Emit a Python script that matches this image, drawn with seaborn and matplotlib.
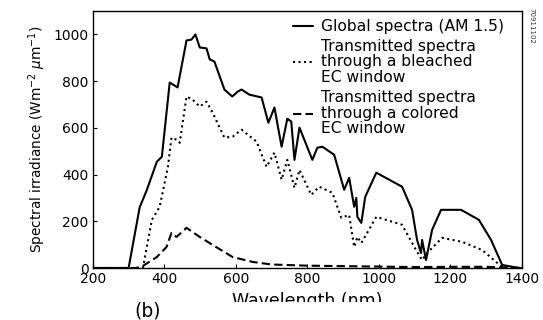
import numpy as np
import pandas as pd
import matplotlib
matplotlib.use("Agg")
import matplotlib.pyplot as plt
from matplotlib.patches import Rectangle
import seaborn as sns

# values
global_nm = [200, 300, 331, 350, 379, 393, 415, 437, 462, 476, 487, 499, 518, 527, 540,
             568, 590, 605, 616, 638, 672, 691, 708, 728, 744, 755, 764, 778, 814, 828,
             842, 875, 903, 917, 931, 937, 940, 951, 962, 993, 1065, 1093, 1107, 1118,
             1121, 1132, 1149, 1174, 1230, 1280, 1314, 1345, 1392, 1400]
global_val = [0, 0, 260, 330, 455, 476, 794, 773, 974, 978, 1000, 944, 940, 893, 884,
              764, 734, 755, 764, 742, 730, 622, 687, 519, 639, 627, 463, 601, 463, 515,
              519, 485, 335, 386, 262, 300, 219, 193, 305, 408, 348, 249, 120, 64,
              120, 34, 163, 249, 249, 206, 120, 13, 0, 0]

bleached_nm = [200, 340, 365, 387, 410, 420, 434, 443, 462, 479, 499, 518, 535, 568, 591,
               616, 658, 686, 708, 728, 744, 764, 778, 811, 833, 870, 895, 917, 931, 940,
               951, 993, 1065, 1104, 1121, 1135, 1177, 1233, 1289, 1345, 1400]
bleached_val = [0, 0, 206, 262, 433, 558, 549, 536, 734, 721, 691, 712, 665, 558, 562,
                592, 541, 433, 494, 378, 463, 343, 420, 313, 348, 322, 215, 227, 90, 133,
                107, 219, 185, 77, 34, 64, 129, 112, 77, 4, 0]

colored_nm = [200, 320, 340, 379, 406, 420, 434, 462, 499, 535, 591, 647, 700, 800, 900,
              1000, 1100, 1200, 1300, 1400]
colored_val = [0, 0, 9, 47, 90, 150, 133, 172, 133, 99, 47, 26, 15, 10, 8,
               6, 4, 5, 5, 0]

labels = ["Global spectra (AM 1.5)",
          "Transmitted spectra\nthrough a bleached\nEC window",
          "Transmitted spectra\nthrough a colored\nEC window"]

sns.set_style("ticks")
plt.rcParams['font.family'] = ['DejaVu Sans']
plt.rcParams['text.color'] = 'black'
plt.rcParams['axes.labelcolor'] = 'black'
plt.rcParams['xtick.color'] = 'black'
plt.rcParams['ytick.color'] = 'black'

fig = plt.figure(figsize=(5.43, 3.2), dpi=100)
ax = fig.add_axes([0.171, 0.1625, 0.79, 0.803])

series = [(global_nm, global_val, "-"),
          (bleached_nm, bleached_val, ":"),
          (colored_nm, colored_val, (0, (4, 2)))]
for (x, y, ls), lab in zip(series, labels):
    df = pd.DataFrame({"nm": x, "val": y})
    sns.lineplot(data=df, x="nm", y="val", ax=ax, color="black", linewidth=1.5,
                 linestyle=ls, label=lab, sort=False)

ax.set_xlim(200, 1400)
ax.set_ylim(0, 1100)
ax.set_xticks(range(200, 1401, 200))
ax.set_yticks(range(0, 1001, 200))
ax.tick_params(direction="in", length=3, labelsize=10, width=0.8, pad=3)
for s in ax.spines.values():
    s.set_linewidth(1.0)
    s.set_color("black")

ax.set_xlabel("Wavelength (nm)", fontsize=12.5, labelpad=4)
ax.set_ylabel(r"Spectral irradiance (Wm$^{-2}$ $\mu$m$^{-1}$)", fontsize=9.8, labelpad=4)

leg = ax.legend(loc="upper left", frameon=False, fontsize=11.2, handlelength=1.25,
                handletextpad=0.5, labelspacing=0.3, borderaxespad=0.0, borderpad=0.15,
                bbox_to_anchor=(0.462, 0.978))
for t in leg.get_texts():
    t.set_linespacing(1.06)

# the scan cuts the lower part of the axis title
fig.patches.append(Rectangle((0.31, 0.0), 0.65, 0.056, transform=fig.transFigure,
                             facecolor="white", edgecolor="none", zorder=10))
fig.text(0.247, 0.012, "(b)", fontsize=13.5)
fig.text(0.974, 0.975, "70911102", rotation=270, fontsize=5, va="top", ha="left", color="#333333")

fig.savefig("out.png", dpi=100)
